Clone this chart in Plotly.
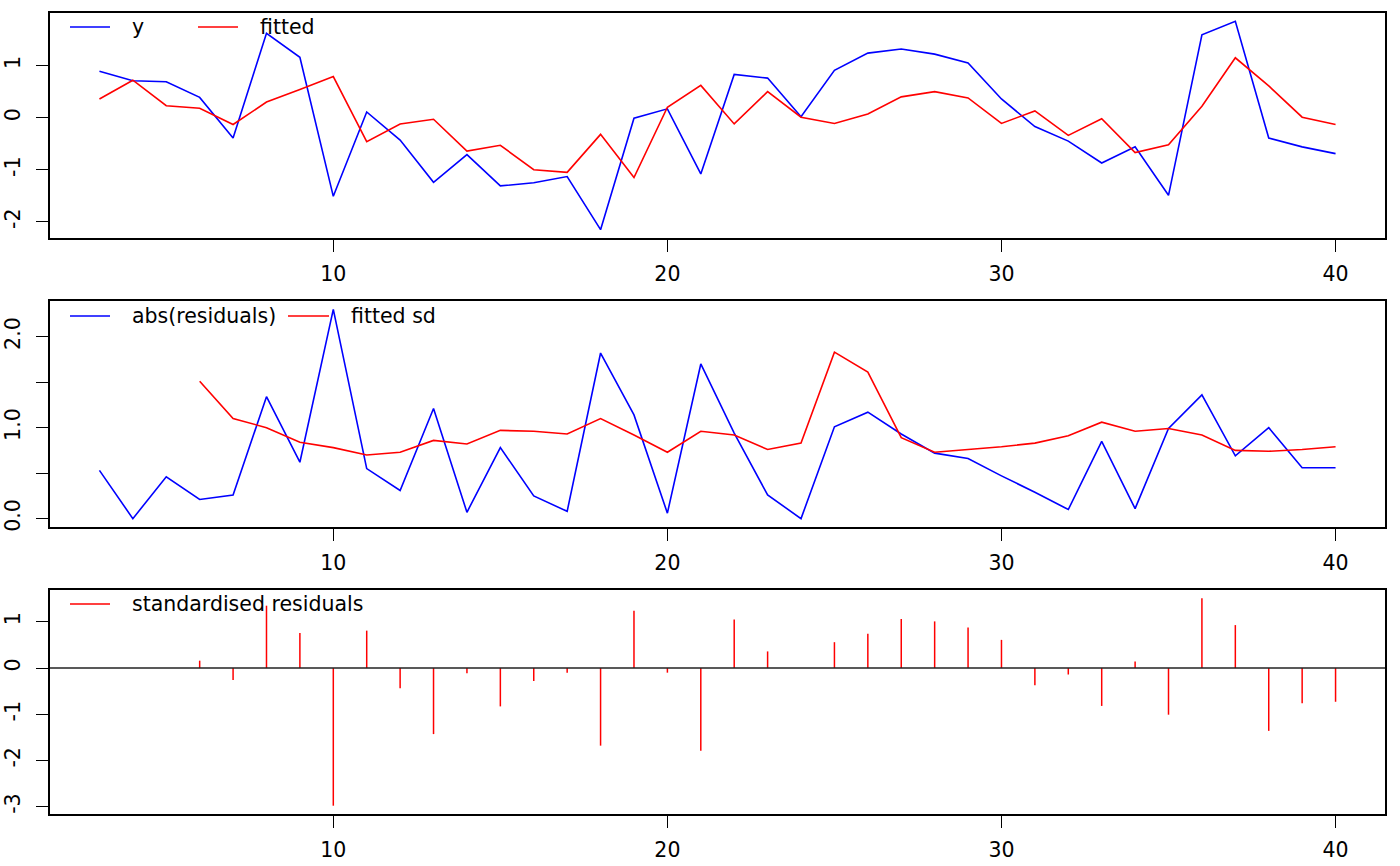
import plotly.graph_objects as go

# ---------------- data ----------------
t = list(range(3, 41))
y_obs = [0.89, 0.71, 0.69, 0.39, -0.39, 1.62, 1.16, -1.51, 0.11, -0.43, -1.24, -0.71, -1.31, -1.25, -1.13, -2.15, -0.01, 0.17,
         -1.08, 0.83, 0.76, 0.02, 0.91, 1.24, 1.32, 1.22, 1.05, 0.36, -0.17, -0.45, -0.87, -0.56, -1.49, 1.59, 1.85, -0.39, -0.56, -0.69]
fitted = [0.36, 0.72, 0.23, 0.18, -0.13, 0.30, 0.54, 0.79, -0.46, -0.12, -0.03, -0.64, -0.53, -1.00, -1.05, -0.32, -1.15, 0.20,
          0.62, -0.12, 0.50, 0.01, -0.11, 0.07, 0.40, 0.50, 0.38, -0.11, 0.13, -0.34, -0.02, -0.67, -0.52, 0.22, 1.15, 0.61, 0.01, -0.13]
abs_resid = [0.53, 0.00, 0.46, 0.21, 0.26, 1.34, 0.62, 2.30, 0.55, 0.31, 1.21, 0.07, 0.78, 0.25, 0.08, 1.82, 1.14, 0.06,
             1.70, 0.94, 0.26, 0.00, 1.01, 1.17, 0.93, 0.72, 0.66, 0.47, 0.29, 0.10, 0.85, 0.11, 0.99, 1.36, 0.69, 1.00, 0.56, 0.56]
fitted_sd = [None, None, None, 1.51, 1.10, 1.00, 0.84, 0.78, 0.70, 0.73, 0.86, 0.82, 0.97, 0.96, 0.93, 1.10, 0.92, 0.73,
             0.96, 0.92, 0.76, 0.83, 1.83, 1.61, 0.89, 0.73, 0.76, 0.79, 0.83, 0.91, 1.06, 0.96, 0.99, 0.92, 0.75, 0.74, 0.76, 0.79]
std_resid = [None, None, None, 0.16, -0.26, 1.35, 0.76, -2.98, 0.81, -0.44, -1.43, -0.11, -0.83, -0.28, -0.10, -1.68, 1.24, -0.10,
             -1.79, 1.05, 0.36, 0.00, 0.56, 0.74, 1.06, 1.01, 0.88, 0.61, -0.37, -0.14, -0.82, 0.14, -1.01, 1.51, 0.93, -1.36, -0.76, -0.73]

x_ticks = [10, 20, 30, 40]
y1_ticks = [-2, -1, 0, 1]
y1_text = ["-2", "-1", "0", "1"]
y2_ticks = [0.0, 0.5, 1.0, 1.5, 2.0]
y2_text = ["0.0", "", "1.0", "", "2.0"]
y3_ticks = [-3, -2, -1, 0, 1]
y3_text = ["-3", "-2", "-1", "0", "1"]

BLUE = "#0000FF"
RED = "#FF0000"
FONT = "DejaVu Sans"
FS = 20.5

# ---------------- geometry (pixels) ----------------
W, H = 1400, 866
ML, MR, MT, MB = 50, 15, 13, 52
PW = W - ML - MR
PH = H - MT - MB
panels = [(13, 238), (301, 527), (590, 814)]  # (top, bottom) pixel rows of each box


def dom(top, bot):
    return [max(0, (H - MB - bot) / PH), min(1, (H - MB - top) / PH)]


def px(xp):
    return (xp - ML) / PW


def py(yp):
    return (H - MB - yp) / PH


def rng(vals):
    v = [a for a in vals if a is not None]
    lo, hi = min(v), max(v)
    s = hi - lo
    return [lo - 0.04 * s, hi + 0.04 * s]


fig = go.Figure()
LW = 1.6

# panel 1
fig.add_trace(go.Scatter(x=t, y=y_obs, mode="lines", line=dict(color=BLUE, width=LW), xaxis="x", yaxis="y"))
fig.add_trace(go.Scatter(x=t, y=fitted, mode="lines", line=dict(color=RED, width=LW), xaxis="x", yaxis="y"))
# panel 2
fig.add_trace(go.Scatter(x=t, y=abs_resid, mode="lines", line=dict(color=BLUE, width=LW), xaxis="x2", yaxis="y2"))
fig.add_trace(go.Scatter(x=t, y=fitted_sd, mode="lines", line=dict(color=RED, width=LW), xaxis="x2", yaxis="y2",
                         connectgaps=False))
# panel 3: vertical spikes
hx, hy = [], []
for xi, yi in zip(t, std_resid):
    if yi is None:
        continue
    hx += [xi, xi, None]
    hy += [0, yi, None]
fig.add_trace(go.Scatter(x=hx, y=hy, mode="lines", line=dict(color=RED, width=1.5), xaxis="x3", yaxis="y3"))

xr = rng(t)
axis_common = dict(showline=True, mirror=True, linecolor="black", linewidth=1.5, showgrid=False, zeroline=False,
                   ticks="outside", ticklen=12, tickwidth=1.3, tickcolor="black", automargin=False,
                   tickfont=dict(family=FONT, size=FS, color="black"))

layout = dict(
    width=W, height=H, margin=dict(l=ML, r=MR, t=MT, b=MB, autoexpand=False),
    paper_bgcolor="white", plot_bgcolor="white", showlegend=False,
    font=dict(family=FONT, size=FS, color="black"),
)
ynames = ["yaxis", "yaxis2", "yaxis3"]
xnames = ["xaxis", "xaxis2", "xaxis3"]
yanchors = ["y", "y2", "y3"]
xanchors = ["x", "x2", "x3"]
yranges = [rng(y_obs + fitted), rng(abs_resid + fitted_sd), rng(std_resid)]
yticks = [(y1_ticks, y1_text), (y2_ticks, y2_text), (y3_ticks, y3_text)]
for i in range(3):
    layout[xnames[i]] = dict(axis_common, domain=[0, 1], anchor=yanchors[i], range=xr,
                             tickmode="array", tickvals=x_ticks, ticktext=[str(v) for v in x_ticks],
                             ticklabelstandoff=5)
    layout[ynames[i]] = dict(axis_common, domain=dom(*panels[i]), anchor=xanchors[i], range=yranges[i],
                             tickmode="array", tickvals=yticks[i][0], ticktext=yticks[i][1],
                             tickangle=-90, ticklabelstandoff=8)
fig.update_layout(**layout)

# zero line in panel 3
fig.add_shape(type="line", xref="x3 domain", yref="y3", x0=0, x1=1, y0=0, y1=0,
              line=dict(color="#222222", width=1.4))

# legends (drawn manually, R style without box)
legends = [
    (27, [(70, 110, BLUE, 130, "y"), (198, 238, RED, 258, "fitted")]),
    (316, [(70, 110, BLUE, 130, "abs(residuals)"), (288, 329, RED, 349, "fitted sd")]),
    (604, [(70, 110, RED, 130, "standardised residuals")]),
]
for ly, items in legends:
    for x0, x1, col, tx, txt in items:
        fig.add_shape(type="line", xref="paper", yref="paper", x0=px(x0), x1=px(x1), y0=py(ly), y1=py(ly),
                      line=dict(color=col, width=LW))
        fig.add_annotation(xref="paper", yref="paper", x=px(tx), y=py(ly), text=txt, showarrow=False,
                           xanchor="left", yanchor="middle", font=dict(family=FONT, size=FS, color="black"))

fig.write_html("out.html", config={"displayModeBar": False},
               post_script="document.body.style.margin='0';document.body.style.overflow='hidden';")
